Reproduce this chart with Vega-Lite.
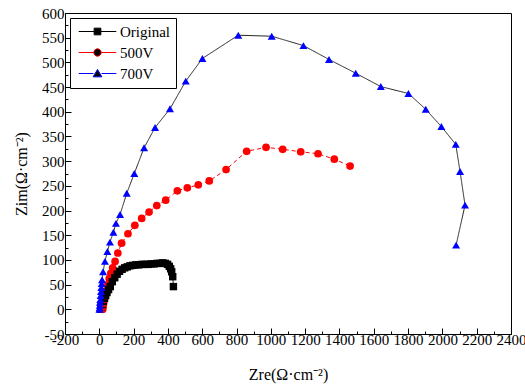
{
  "$schema": "https://vega.github.io/schema/vega-lite/v6.json",
  "width": 446,
  "height": 321,
  "autosize": "none",
  "padding": {"left": 65, "top": 13, "right": 14, "bottom": 50},
  "background": "white",
  "config": {
    "view": {"stroke": "black", "strokeWidth": 1},
    "font": "Liberation Serif, Times New Roman, serif",
    "axis": {"domainColor": "black", "tickColor": "black", "labelColor": "black", "titleColor": "black", "grid": false, "labelFont": "Liberation Serif, Times New Roman, serif", "titleFont": "Liberation Serif, Times New Roman, serif", "labelFontSize": 15, "titleFontSize": 16, "titleFontWeight": "normal", "labelOverlap": false, "labelFlush": false}
  },
  "data": {
    "values": [
      {"s": "Original", "i": 1, "x": 8, "y": 0}, {"s": "Original", "i": 2, "x": 12, "y": 5}, {"s": "Original", "i": 3, "x": 17, "y": 10}, {"s": "Original", "i": 4, "x": 23, "y": 16}, {"s": "Original", "i": 5, "x": 30, "y": 22}, {"s": "Original", "i": 6, "x": 37, "y": 28}, {"s": "Original", "i": 7, "x": 45, "y": 34}, {"s": "Original", "i": 8, "x": 54, "y": 40}, {"s": "Original", "i": 9, "x": 64, "y": 46}, {"s": "Original", "i": 10, "x": 76, "y": 56}, {"s": "Original", "i": 11, "x": 90, "y": 64}, {"s": "Original", "i": 12, "x": 104, "y": 71}, {"s": "Original", "i": 13, "x": 118, "y": 77}, {"s": "Original", "i": 14, "x": 133, "y": 81}, {"s": "Original", "i": 15, "x": 148, "y": 84}, {"s": "Original", "i": 16, "x": 163, "y": 86}, {"s": "Original", "i": 17, "x": 178, "y": 88}, {"s": "Original", "i": 18, "x": 195, "y": 89}, {"s": "Original", "i": 19, "x": 212, "y": 90}, {"s": "Original", "i": 20, "x": 230, "y": 90}, {"s": "Original", "i": 21, "x": 248, "y": 91}, {"s": "Original", "i": 22, "x": 266, "y": 91}, {"s": "Original", "i": 23, "x": 284, "y": 91}, {"s": "Original", "i": 24, "x": 302, "y": 92}, {"s": "Original", "i": 25, "x": 320, "y": 92}, {"s": "Original", "i": 26, "x": 338, "y": 93}, {"s": "Original", "i": 27, "x": 355, "y": 93}, {"s": "Original", "i": 28, "x": 370, "y": 94}, {"s": "Original", "i": 29, "x": 385, "y": 93}, {"s": "Original", "i": 30, "x": 398, "y": 91}, {"s": "Original", "i": 31, "x": 408, "y": 87}, {"s": "Original", "i": 32, "x": 416, "y": 82}, {"s": "Original", "i": 33, "x": 422, "y": 76}, {"s": "Original", "i": 34, "x": 428, "y": 66}, {"s": "Original", "i": 35, "x": 432, "y": 46},
      {"s": "500V", "i": 1, "x": 20, "y": 0}, {"s": "500V", "i": 2, "x": 22, "y": 5}, {"s": "500V", "i": 3, "x": 25, "y": 12}, {"s": "500V", "i": 4, "x": 30, "y": 20}, {"s": "500V", "i": 5, "x": 35, "y": 28}, {"s": "500V", "i": 6, "x": 42, "y": 38}, {"s": "500V", "i": 7, "x": 50, "y": 50}, {"s": "500V", "i": 8, "x": 58, "y": 62}, {"s": "500V", "i": 9, "x": 67, "y": 73}, {"s": "500V", "i": 10, "x": 78, "y": 84}, {"s": "500V", "i": 11, "x": 92, "y": 97}, {"s": "500V", "i": 12, "x": 108, "y": 114}, {"s": "500V", "i": 13, "x": 130, "y": 134}, {"s": "500V", "i": 14, "x": 167, "y": 153}, {"s": "500V", "i": 15, "x": 207, "y": 170}, {"s": "500V", "i": 16, "x": 247, "y": 184}, {"s": "500V", "i": 17, "x": 290, "y": 197}, {"s": "500V", "i": 18, "x": 335, "y": 210}, {"s": "500V", "i": 19, "x": 387, "y": 221}, {"s": "500V", "i": 20, "x": 455, "y": 240}, {"s": "500V", "i": 21, "x": 513, "y": 246}, {"s": "500V", "i": 22, "x": 577, "y": 252}, {"s": "500V", "i": 23, "x": 641, "y": 260}, {"s": "500V", "i": 24, "x": 739, "y": 283}, {"s": "500V", "i": 25, "x": 859, "y": 320}, {"s": "500V", "i": 26, "x": 972, "y": 328}, {"s": "500V", "i": 27, "x": 1069, "y": 324}, {"s": "500V", "i": 28, "x": 1174, "y": 319}, {"s": "500V", "i": 29, "x": 1275, "y": 315}, {"s": "500V", "i": 30, "x": 1370, "y": 304}, {"s": "500V", "i": 31, "x": 1462, "y": 290},
      {"s": "700V", "i": 1, "x": 1, "y": 0}, {"s": "700V", "i": 2, "x": 2, "y": 3}, {"s": "700V", "i": 3, "x": 3, "y": 8}, {"s": "700V", "i": 4, "x": 4, "y": 14}, {"s": "700V", "i": 5, "x": 6, "y": 20}, {"s": "700V", "i": 6, "x": 8, "y": 28}, {"s": "700V", "i": 7, "x": 10, "y": 36}, {"s": "700V", "i": 8, "x": 12, "y": 44}, {"s": "700V", "i": 9, "x": 14, "y": 52}, {"s": "700V", "i": 10, "x": 16, "y": 60}, {"s": "700V", "i": 11, "x": 22, "y": 76}, {"s": "700V", "i": 12, "x": 33, "y": 97}, {"s": "700V", "i": 13, "x": 47, "y": 117}, {"s": "700V", "i": 14, "x": 62, "y": 136}, {"s": "700V", "i": 15, "x": 82, "y": 156}, {"s": "700V", "i": 16, "x": 97, "y": 174}, {"s": "700V", "i": 17, "x": 121, "y": 192}, {"s": "700V", "i": 18, "x": 160, "y": 235}, {"s": "700V", "i": 19, "x": 204, "y": 275}, {"s": "700V", "i": 20, "x": 261, "y": 327}, {"s": "700V", "i": 21, "x": 325, "y": 368}, {"s": "700V", "i": 22, "x": 412, "y": 406}, {"s": "700V", "i": 23, "x": 504, "y": 462}, {"s": "700V", "i": 24, "x": 601, "y": 508}, {"s": "700V", "i": 25, "x": 810, "y": 555}, {"s": "700V", "i": 26, "x": 1005, "y": 553}, {"s": "700V", "i": 27, "x": 1190, "y": 534}, {"s": "700V", "i": 28, "x": 1339, "y": 506}, {"s": "700V", "i": 29, "x": 1495, "y": 478}, {"s": "700V", "i": 30, "x": 1641, "y": 451}, {"s": "700V", "i": 31, "x": 1802, "y": 437}, {"s": "700V", "i": 32, "x": 1903, "y": 405}, {"s": "700V", "i": 33, "x": 1994, "y": 370}, {"s": "700V", "i": 34, "x": 2078, "y": 334}, {"s": "700V", "i": 35, "x": 2103, "y": 279}, {"s": "700V", "i": 36, "x": 2132, "y": 211}, {"s": "700V", "i": 37, "x": 2080, "y": 130}
    ]
  },
  "encoding": {
    "x": {
      "field": "x", "type": "quantitative",
      "scale": {"domain": [-200, 2400], "nice": false, "zero": false},
      "axis": {
        "title": "Zre(Ω·cm⁻²)",
        "values": [-200, -100, 0, 100, 200, 300, 400, 500, 600, 700, 800, 900, 1000, 1100, 1200, 1300, 1400, 1500, 1600, 1700, 1800, 1900, 2000, 2100, 2200, 2300, 2400],
        "labelExpr": "datum.value % 200 === 0 ? '' + datum.value : ''",
        "tickSize": {"condition": {"test": "datum.value % 200 === 0", "value": -6}, "value": -3},
        "labelPadding": 4,
        "titlePadding": 16
      }
    },
    "y": {
      "field": "y", "type": "quantitative",
      "scale": {"domain": [-50, 600], "nice": false, "zero": false},
      "axis": {
        "title": "Zim(Ω·cm⁻²)",
        "values": [-50, -25, 0, 25, 50, 75, 100, 125, 150, 175, 200, 225, 250, 275, 300, 325, 350, 375, 400, 425, 450, 475, 500, 525, 550, 575, 600],
        "labelExpr": "datum.value % 50 === 0 ? '' + datum.value : ''",
        "tickSize": {"condition": {"test": "datum.value % 50 === 0", "value": -6}, "value": -3},
        "labelPadding": 7,
        "titlePadding": 12
      }
    },
    "order": {"field": "i", "type": "quantitative"}
  },
  "layer": [
    {
      "mark": {"type": "line", "strokeWidth": 1},
      "encoding": {
        "stroke": {"field": "s", "type": "nominal", "scale": {"domain": ["Original", "500V", "700V"], "range": ["#000000", "#ff0000", "#222222"]}, "legend": null},
        "strokeDash": {"field": "s", "type": "nominal", "scale": {"domain": ["Original", "500V", "700V"], "range": [[1, 0], [4, 3], [1, 0]]}, "legend": null}
      }
    },
    {
      "mark": {"type": "point", "filled": true, "opacity": 1},
      "encoding": {
        "color": {"field": "s", "type": "nominal", "scale": {"domain": ["Original", "500V", "700V"], "range": ["#000000", "#ff0000", "#0000ff"]}, "legend": null},
        "shape": {"field": "s", "type": "nominal", "scale": {"domain": ["Original", "500V", "700V"], "range": ["square", "circle", "triangle-up"]}, "legend": null},
        "size": {"field": "s", "type": "nominal", "scale": {"domain": ["Original", "500V", "700V"], "range": [55, 64, 90]}, "legend": null}
      }
    },
    {
      "mark": {"type": "point", "filled": true, "opacity": 0, "strokeWidth": 1},
      "encoding": {
        "fill": {"field": "s", "type": "nominal", "scale": {"domain": ["Original", "500V", "700V"], "range": ["#000000", "#ff0000", "#0000ff"]},
          "legend": {"orient": "top-left", "offset": 5, "title": null, "strokeColor": "black", "fillColor": "white", "padding": 6, "symbolSize": 180, "symbolOffset": 14, "labelOffset": 15, "labelFontSize": 15, "labelFont": "Liberation Serif, Times New Roman, serif", "labelColor": "black", "rowPadding": 5, "symbolOpacity": 1, "symbolStrokeWidth": 1}},
        "stroke": {"field": "s", "type": "nominal", "scale": {"domain": ["Original", "500V", "700V"], "range": ["#000000", "#ff0000", "#0000ff"]},
          "legend": {"orient": "top-left", "offset": 5, "title": null, "strokeColor": "black", "fillColor": "white", "padding": 6, "symbolSize": 180, "symbolOffset": 14, "labelOffset": 15, "labelFontSize": 15, "labelFont": "Liberation Serif, Times New Roman, serif", "labelColor": "black", "rowPadding": 5, "symbolOpacity": 1, "symbolStrokeWidth": 1}},
        "shape": {"field": "s", "type": "nominal", "scale": {"domain": ["Original", "500V", "700V"], "range": ["M-2.8,0H-0.5M0.5,0H2.8M-0.5,-0.5H0.5V0.5H-0.5Z", "M-2.8,0H-0.55M0.55,0H2.8M-0.55,0A0.55,0.55 0 1,0 0.55,0A0.55,0.55 0 1,0 -0.55,0Z", "M-2.8,0H-0.6M0.6,0H2.8M0,-0.6L0.65,0.5H-0.65Z"]},
          "legend": {"orient": "top-left", "offset": 5, "title": null, "strokeColor": "black", "fillColor": "white", "padding": 6, "symbolSize": 180, "symbolOffset": 14, "labelOffset": 15, "labelFontSize": 15, "labelFont": "Liberation Serif, Times New Roman, serif", "labelColor": "black", "rowPadding": 5, "symbolOpacity": 1, "symbolStrokeWidth": 1}}
      }
    }
  ],
  "resolve": {"scale": {"shape": "independent", "stroke": "independent"}}
}
